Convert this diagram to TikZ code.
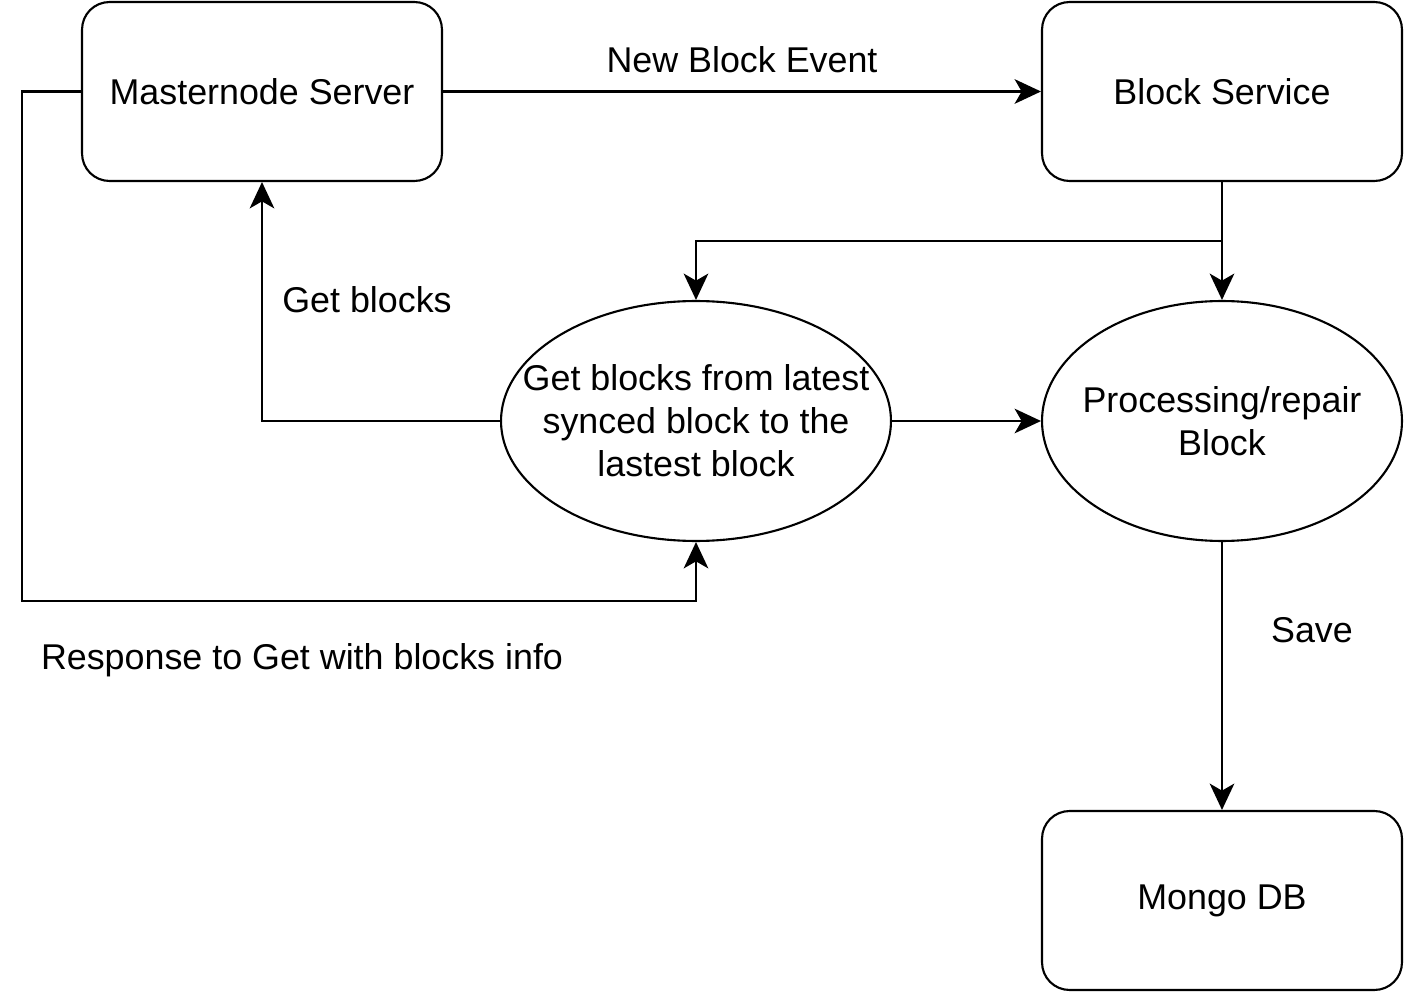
\documentclass[tikz,border=0pt]{standalone}
\usepackage{fontspec}
\setmainfont{Liberation Sans}
\usetikzlibrary{arrows.meta,positioning,shapes.geometric}

\begin{document}
\begin{tikzpicture}[
  x=0.02cm, y=-0.02cm,
  font=\fontsize{20.4}{24.5}\selectfont,
  line width=1.2pt,
  >={Stealth[length=15pt,width=14pt,inset=4pt]},
  % Styles
  box/.style={draw,rectangle,rounded corners=0.55cm,minimum width=7.2cm,minimum height=3.58cm,align=center,inner sep=0},
  blob/.style={draw,ellipse,inner sep=0,minimum height=4.8cm},
  arrowstyle/.style={->},
  lbl/.style={inner sep=0,align=center},
  ]
\useasboundingbox (0,0) rectangle (1404,993);

%--- Boxes ----------------------------------------------------------
\node[box] (master) at (262,91.5) {Masternode Server};
\node[box] (service) at (1222,91.5) {Block Service};
\node[box] (mongo) at (1222,900.5) {Mongo DB};

%--- Ellipses -------------------------------------------------------
\node[blob, minimum width=7.8cm,
  label={[lbl]center:Get blocks from latest\\synced block to the\\lastest block}]
  (sync) at (696,421) {};
\node[blob, minimum width=7.2cm,
  label={[lbl]center:Processing/repair\\Block}]
  (process) at (1222,421) {};

\coordinate (split) at (1222,241);
\coordinate (back) at (22,601);

%--- Connections ----------------------------------------------------
% New block event
\draw[arrowstyle] (master.east) -- (service.west);
\node[lbl] (evlbl) at (742,60) {New Block Event};

% Block service to both ellipses
\draw[arrowstyle] (service.south) -- (process.north);
\draw[arrowstyle] (split) -| (sync.north);

% Request blocks from the masternode
\draw[arrowstyle] (sync.west) -| (master.south);
\node[lbl] (getlbl) at (367,300) {Get blocks};

% Response back to the sync ellipse
\draw[arrowstyle] (master.west) -| (back) -| (sync.south);
\node[lbl] (resplbl) at (302,660) {Response to Get with blocks info};

% Sync to processing
\draw[arrowstyle] (sync.east) -- (process.west);

% Save to database
\draw[arrowstyle] (process.south) -- (mongo.north);
\node[lbl] (savelbl) at (1312,630) {Save};

\end{tikzpicture}
\end{document}
